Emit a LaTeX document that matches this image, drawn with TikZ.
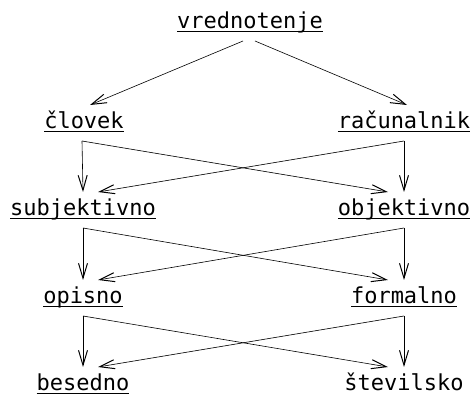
\documentclass[tikz,border=0pt]{standalone}
\usepackage{fontspec}
\setmonofont{DejaVu Sans Mono}
\usetikzlibrary{arrows.meta}

\newlength\ulwd
\newcommand\ultext[1]{\settowidth\ulwd{#1}\rlap{\rule[-3.5pt]{\ulwd}{1.1pt}}#1}

\begin{document}
\begin{tikzpicture}[x=1pt, y=-1pt,
        lbl/.style={font=\ttfamily\fontsize{22}{24}\selectfont, inner sep=0pt, outer ysep=7pt,
            text height=17pt, text depth=5pt, anchor=base},
        arr/.style={-{Straight Barb[length=15pt,width=9pt,line width=1pt]}, line width=0.6pt}]
        \useasboundingbox (0,0) rectangle (472,395);

        \node[lbl] (vred) at (250,29) {\ultext{vrednotenje}};

        \node[lbl] (clovek) at (84,129) {\ultext{človek}};
        \node[lbl] (racun) at (404,129) {\ultext{računalnik}};

        \node[lbl] (subj) at (83,216) {\ultext{subjektivno}};
        \node[lbl] (obj) at (404,216) {\ultext{objektivno}};

        \node[lbl] (opis) at (83,304) {\ultext{opisno}};
        \node[lbl] (formal) at (404,304) {\ultext{formalno}};

        \node[lbl] (besed) at (83,391) {\ultext{besedno}};
        \node[lbl] (stev) at (404,391) {številsko};

        % top split
        \draw[arr] ([xshift=-7pt]vred.south) -- ([xshift=6pt]clovek.north);
        \draw[arr] ([xshift=5pt]vred.south) -- ([xshift=3pt]racun.north);

        % clovek / racunalnik
        \draw[arr] ([xshift=-2pt]clovek.south) -- (subj.north);
        \draw[arr] ([xshift=-2pt]clovek.south) -- ([xshift=-16pt]obj.north);
        \draw[arr] (racun.south) -- (obj.north);
        \draw[arr] (racun.south) -- ([xshift=15pt]subj.north);

        % subjektivno / objektivno
        \draw[arr] (subj.south) -- (opis.north);
        \draw[arr] (subj.south) -- ([xshift=-16pt]formal.north);
        \draw[arr] (obj.south) -- (formal.north);
        \draw[arr] (obj.south) -- ([xshift=15pt]opis.north);

        % opisno / formalno
        \draw[arr] (opis.south) -- (besed.north);
        \draw[arr] (opis.south) -- ([xshift=-16pt]stev.north);
        \draw[arr] (formal.south) -- (stev.north);
        \draw[arr] (formal.south) -- ([xshift=15pt]besed.north);
    \end{tikzpicture}
\end{document}
